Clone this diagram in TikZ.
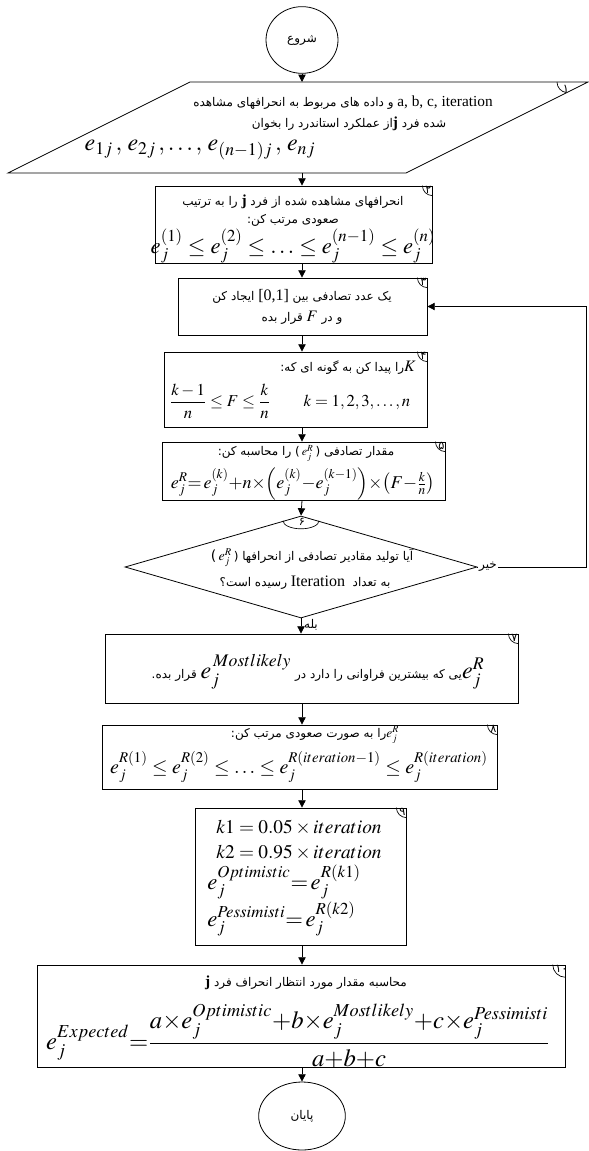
\documentclass[tikz,border=0pt]{standalone}
\usepackage{mathptmx}
\usepackage{fontspec}
\setmainfont{Liberation Serif}
\newfontfamily\fafont[Script=Arabic]{DejaVu Sans}
\usetikzlibrary{arrows.meta,shapes.geometric,fit}
\TeXXeTstate=1

\tikzset{
  box/.style={draw, line width=0.6pt, inner sep=0pt},
  arr/.style={-{Triangle[length=5.5pt,width=5.5pt]}, line width=0.6pt},
  fa/.style={font=\fafont\fontsize{9}{10}\selectfont, inner sep=0pt},
  eq/.style={font=\fontsize{15}{17}\selectfont, inner sep=0pt},
  lbl/.style={font=\fafont\fontsize{8.5}{9}\selectfont, inner sep=0pt},
}
% corner tag of a box
\newcommand\numtag[3][7.5pt]{%
  \draw[line width=0.5pt] ([xshift=-#1]#2.north east) arc[start angle=180, end angle=270, radius=#1];
  \node[lbl] at ([xshift=-3pt,yshift=-3.4pt]#2.north east) {#3};
}
\newcommand\lat[1]{\beginL{\rmfamily #1}\endL{}}

\begin{document}
\begin{tikzpicture}[x=0.75pt,y=-0.75pt]
    \useasboundingbox (0,0) rectangle (588,1151);
    \coordinate (col) at (302,0);

    % start
    \node[ellipse, draw, line width=0.6pt, minimum width=54pt, minimum height=50pt, font=\fafont\fontsize{9}{10}\selectfont] (start) at (302,40) {\beginR شروع\endR};

    % 1: read data
    \coordinate (pa) at (190,82);
    \coordinate (pb) at (588,82);
    \coordinate (pc) at (406,173);
    \coordinate (pd) at (8,173);
    \draw[line width=0.6pt] (pa) -- (pb) -- (pc) -- (pd) -- cycle;
    \coordinate (pin) at (302,82);
    \coordinate (pout) at (302,173);
    \draw[line width=0.5pt] (557,82) arc[start angle=180, end angle=262, radius=8pt];
    \node[lbl] (t1) at (566,89) {۱};
    \node[fa] (p1a) at (343,103) {\beginR\lat{\fontsize{11.5}{12}\selectfont a, b, c, iteration} و داده های مربوط به انحرافهای مشاهده\endR};
    \node[fa] (p1b) at (349,124) {\beginR شده فرد {\rmfamily\bfseries\fontsize{11.5}{12}\selectfont j}از عملکرد استاندرد را بخوان\endR};
    \node[eq, font=\fontsize{18}{20}\selectfont] (p1m) at (200,150) {$e_{1j}\,,\,e_{2j}\,,\ldots,\,e_{(n-1)j}\,,\,e_{nj}$};

    % 2: sort
    \node[box, fit={(155,186) (432,263)}] (b2) {};
    \numtag{b2}{۲}
    \node[fa] (p2a) at (293,202) {\beginR انحرافهای مشاهده شده از فرد {\rmfamily\bfseries\fontsize{11.5}{12}\selectfont j} را به ترتیب\endR};
    \node[fa] (p2b) at (293,220) {\beginR صعودی مرتب کن:\endR};
    \node[eq, font=\fontsize{17}{19}\selectfont] (p2m) at (293,246) {$e_j^{(1)} \le e_j^{(2)} \le \ldots \le e_j^{(n-1)} \le e_j^{(n)}$};

    % 3: random F
    \node[box, fit={(178,278) (427,335)}] (b3) {};
    \numtag{b3}{۳}
    \node[fa] (p3a) at (302,296) {\beginR یک عدد تصادفی بین \lat{\fontsize{12}{13}\selectfont [0,1]} ایجاد کن\endR};
    \node[fa] (p3b) at (302,318) {\beginR و در \hbox{\fontsize{12}{13}\selectfont$F$} قرار بده\endR};

    % 4: find k
    \node[box, fit={(164,352) (427,427)}] (b4) {};
    \numtag{b4}{۴}
    \node[fa, anchor=east] (p4a) at (416,368) {\beginR\hbox{\fontsize{12}{13}\selectfont$K$}را پیدا کن به گونه ای که:\endR};
    \node[eq, font=\fontsize{12.5}{14}\selectfont] (p4m) at (290,401) {$\displaystyle\frac{k-1}{n} \le F \le \frac{k}{n} \qquad k=1,2,3,\ldots,n$};

    % 5: compute e^R
    \node[box, fit={(162,442) (445,500)}] (b5) {};
    \numtag{b5}{۵}
    \node[fa] (p5a) at (306,453) {\beginR مقدار تصادفی \hbox{(\,$e^{R}_{j}$\,)} را محاسبه کن:\endR};
    \node[eq, font=\fontsize{13.5}{15}\selectfont] (p5m) at (303,484) {$e_j^R{=}\,e_j^{(k)}{+}n{\times}\!\left(e_j^{(k)}{-}e_j^{(k-1)}\right)\!{\times}\!\left(F{-}\frac{k}{n}\right)$};

    % 6: test
    \node[diamond, draw, line width=0.6pt, inner sep=0pt, minimum width=264pt, minimum height=76.5pt] (dia) at (301,567) {};
    \draw[line width=0.5pt] (dia.north) ++(-13.5pt,-3.9pt) arc[start angle=180, end angle=360, x radius=13.5pt, y radius=6pt];
    \node[lbl] (t6) at (302,522) {۶};
    \node[fa] (p6a) at (312,558) {\beginR آیا تولید مقادیر تصادفی از انحرافها \hbox{(\,\fontsize{10.5}{11}\selectfont$e_j^R$\,)}\endR};
    \node[fa] (p6b) at (305,583) {\beginR به تعداد \ \lat{\fontsize{12}{13}\selectfont Iteration} رسیده است؟\endR};

    % 7: most likely
    \node[box, fit={(105,634) (518,703)}] (b7) {};
    \numtag{b7}{۷}
    \node[fa] (p7a) at (318,672) {\beginR\hbox{\fontsize{18}{19}\selectfont$e_j^R$}یی که بیشترین فراوانی را دارد در \hbox{\fontsize{18}{19}\selectfont$e_j^{\,Mostlikely}$} قرار بده.\endR};

    % 8: sort e^R
    \node[box, fit={(102,725) (497,789)}] (b8) {};
    \numtag{b8}{۸}
    \node[fa] (p8a) at (315,735) {\beginR\hbox{\fontsize{10}{11}\selectfont$e_j^R$}را به صورت صعودی مرتب کن:\endR};
    \node[eq] (p8m) at (299,767) {$e_j^{R(1)} \le e_j^{R(2)} \le \ldots \le e_j^{R(iteration-1)} \le e_j^{R(iteration)}$};

    % 9: k1, k2
    \node[box, fit={(195,808) (406,945)}] (b9) {};
    \numtag{b9}{۹}
    \node[eq, font=\fontsize{14.5}{16}\selectfont, anchor=west] (p9a) at (216,828) {$k1 = 0.05 \times iteration$};
    \node[eq, font=\fontsize{14.5}{16}\selectfont, anchor=west] (p9b) at (216,853) {$k2 = 0.95 \times iteration$};
    \node[eq, font=\fontsize{17}{19}\selectfont, anchor=west] (p9c) at (207,882) {$e_j^{Optimistic}{=}\,e_j^{R(k1)}$};
    \node[eq, font=\fontsize{17}{19}\selectfont, anchor=west] (p9d) at (207,919) {$e_j^{Pessimisti}{=}\,e_j^{R(k2)}$};

    % 10: expected value
    \node[box, fit={(37,965) (565,1067)}] (b10) {};
    \numtag[9.5pt]{b10}{۱۰}
    \node[fa] (p10a) at (306,983) {\beginR محاسبه مقدار مورد انتظار انحراف فرد {\rmfamily\bfseries\fontsize{11.5}{12}\selectfont j}\endR};
    \node[eq, font=\fontsize{18.5}{20}\selectfont] (p10m) at (298,1036) {$\displaystyle e_j^{Expected}{=}\frac{a{\times}e_j^{Optimistic}{+}b{\times}e_j^{Mostlikely}{+}c{\times}e_j^{Pessimisti}}{a{+}b{+}c}$};

    % end
    \node[ellipse, draw, line width=0.6pt, minimum width=65pt, minimum height=51pt, font=\fafont\fontsize{9}{10}\selectfont] (stop) at (302,1116) {\beginR پایان\endR};

    % connectors
    \draw[arr] (start) -- (pin);
    \draw[arr] (pout) -- (b2.north -| col);
    \draw[arr] (b2.south -| col) -- (b3.north -| col);
    \draw[arr] (b3.south -| col) -- (b4.north -| col);
    \draw[arr] (b4.south -| col) -- (b5.north -| col);
    \draw[arr] (b5.south -| col) -- (dia.north);
    \coordinate (turn) at (586,567);
    \draw[arr] (dia.east) node[fa, anchor=west, fill=white, inner sep=1pt] (no) {\beginR خیر\endR} -- (turn) |- (b3.east);
    \draw[arr] (dia.south) -- (b7.north -| dia.south) node[fa, pos=0.45, right=2pt] (yes) {\beginR بله\endR};
    \draw[arr] (b7.south -| col) -- (b8.north -| col);
    \draw[arr] (b8.south -| col) -- (b9.north -| col);
    \draw[arr] (b9.south -| col) -- (b10.north -| col);
    \draw[arr] (b10.south -| col) -- (stop);
\end{tikzpicture}
\end{document}
